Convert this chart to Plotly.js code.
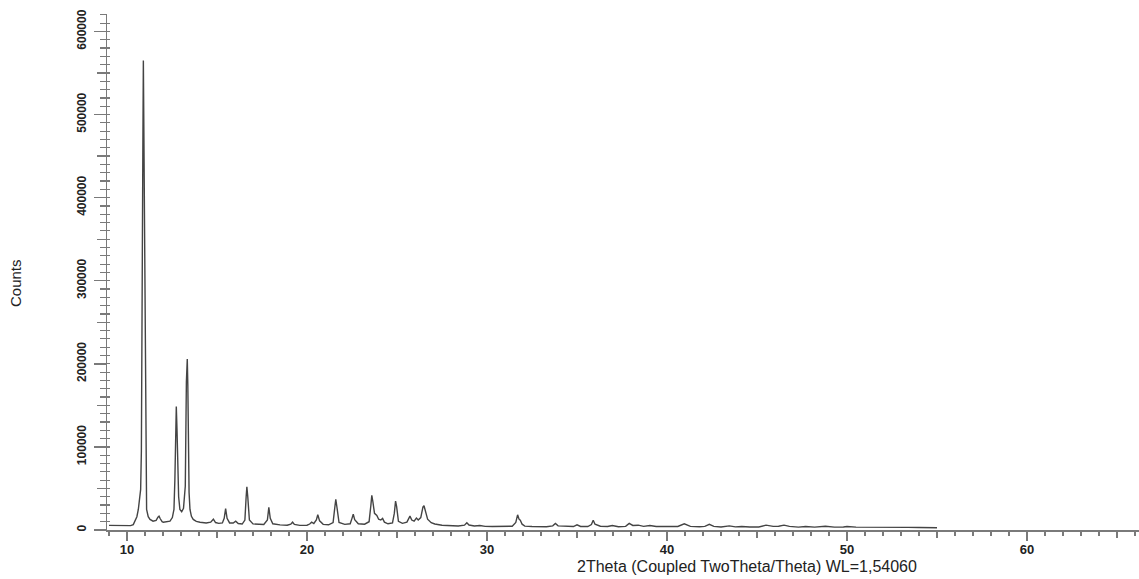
<!DOCTYPE html>
<html>
<head>
<meta charset="utf-8">
<script src="https://cdn.plot.ly/plotly-3.0.1.min.js"></script>
<style>html,body{margin:0;padding:0;background:#fff;}#chart{width:1139px;height:579px;}</style>
</head>
<body>
<div id="chart"></div>
<script>
// 2Theta (degrees)
const twoTheta = [
9.00,9.30,9.60,9.90,10.20,10.35,10.44,10.55,10.63,10.72,10.76,10.80,10.83,10.86,10.88,10.91,10.94,10.96,10.98,11.01,11.04,11.09,11.18,11.28,11.45,11.62,11.72,11.78,11.85,11.95,
12.02,12.20,12.39,12.52,12.61,12.66,12.70,12.74,12.78,12.82,12.87,12.94,13.04,13.14,13.24,13.30,13.35,13.38,13.41,13.45,13.50,13.58,13.68,13.85,14.06,14.40,14.65,14.80,14.92,15.10,
15.30,15.40,15.48,15.56,15.70,15.90,16.04,16.18,16.40,16.55,16.62,16.66,16.71,16.80,17.00,17.30,17.60,17.80,17.88,17.96,18.10,18.50,18.90,19.10,19.20,19.30,19.60,20.00,20.15,20.26,
20.38,20.52,20.60,20.70,20.90,21.20,21.45,21.55,21.60,21.66,21.78,22.10,22.40,22.50,22.57,22.65,22.85,23.20,23.45,23.55,23.60,23.66,23.75,23.88,23.98,24.10,24.20,24.30,24.50,24.75,
24.85,24.92,24.98,25.08,25.30,25.55,25.65,25.72,25.82,25.95,26.08,26.18,26.32,26.44,26.50,26.58,26.70,26.90,27.10,27.50,28.00,28.40,28.75,28.88,29.00,29.30,29.60,29.90,30.30,30.70,
31.10,31.40,31.60,31.70,31.78,31.85,31.95,32.10,32.50,32.90,33.30,33.65,33.80,33.95,34.40,34.80,35.00,35.20,35.60,35.80,35.90,36.00,36.30,36.70,36.96,37.30,37.70,37.90,38.10,38.40,
38.70,39.05,39.40,39.70,40.10,40.60,40.96,41.30,41.80,42.10,42.35,42.60,43.00,43.46,43.80,44.15,44.60,45.10,45.50,45.90,46.20,46.50,46.80,47.30,47.70,48.20,48.80,49.30,49.80,50.00,
50.50,51.00,51.50,52.00,52.80,53.40,54.00,54.60,55.00
];
// Counts
const counts = [
5600,5400,5200,5100,5300,6500,10600,16000,24700,38000,48900,95000,185000,282000,450000,565000,460000,340000,282000,160000,81500,24700,16000,12700,10600,11500,15500,16700,13500,10000,
9400,9800,10600,15000,24700,60000,137000,148700,120000,81500,40000,24700,22000,26000,53000,178000,205800,175000,81500,45000,24700,16500,12700,10300,9400,8500,9500,13000,9000,8000,
8500,14000,25800,14000,8500,8400,10600,7800,7200,12000,40000,52100,40000,12000,7300,6600,6600,12000,27200,14000,7500,6200,5800,7000,9400,6800,5600,5800,7200,9400,
7800,12000,18300,11000,6800,6300,9000,28000,36800,28000,9000,6800,7500,14000,19000,12500,7500,7000,10000,30000,41600,34000,20000,17500,13000,12000,13900,9500,7500,8500,
20000,34800,28000,10500,8000,9500,14000,16700,12000,10600,14400,12000,15000,27500,29200,22000,13000,8800,7200,5800,5200,4800,5800,8700,6000,4800,5400,4400,4300,4200,
4000,4600,9000,18300,13000,11800,7000,4600,4200,3800,4000,5000,7800,5000,4600,4200,6300,4300,4200,6500,11800,7000,4500,4200,5400,4000,4400,8000,5500,5800,
4400,5400,4300,4200,3800,4200,7400,4300,3900,4400,6800,4300,3700,5000,3800,4200,3600,3700,5800,4400,4500,5800,4300,3500,4200,3500,4600,3500,3600,4200,
3500,3500,4000,3300,3800,3100,3000,2800,2700
];
const xRange = [8.89, 66.22];
const yRange = [0, 621000];
const xTitle = "2Theta (Coupled TwoTheta/Theta) WL=1,54060";
const yTitle = "Counts";

const axisColor = '#7a7a7a';
const tickFont = {family: 'Liberation Sans, Arial, sans-serif', size: 13, color: '#222', weight: 'bold'};
const yTickFont = {family: 'Liberation Sans, Arial, sans-serif', size: 12, color: '#222', weight: 'bold'};

const traces = [
  {x: twoTheta, y: counts, type: 'scatter', mode: 'lines', line: {color: '#444444', width: 1.4}, xaxis: 'x', yaxis: 'y', hoverinfo: 'skip'},
  {x: [], y: [], type: 'scatter', mode: 'lines', xaxis: 'x', yaxis: 'y2', hoverinfo: 'skip'},
  {x: [], y: [], type: 'scatter', mode: 'lines', xaxis: 'x', yaxis: 'y3', hoverinfo: 'skip'},
  {x: [], y: [], type: 'scatter', mode: 'lines', xaxis: 'x2', yaxis: 'y', hoverinfo: 'skip'}
];

const layout = {
  width: 1139, height: 579,
  margin: {l: 107, r: 0, t: 14, b: 48.5, pad: 0},
  paper_bgcolor: '#fff', plot_bgcolor: '#fff',
  showlegend: false,
  xaxis: {
    range: xRange, autorange: false, showgrid: false, zeroline: false,
    showline: true, linecolor: axisColor, linewidth: 1.5,
    ticks: 'outside', ticklen: 9, tickwidth: 1.5, tickcolor: axisColor,
    tick0: 0, dtick: 10, tickfont: tickFont, tickformat: 'd', ticklabelstandoff: -2,
    minor: {ticks: 'outside', dtick: 1, tick0: 0, ticklen: 4, tickwidth: 1.2, tickcolor: axisColor, showgrid: false}
  },
  xaxis2: {
    overlaying: 'x', anchor: 'y', range: xRange, autorange: false, showgrid: false, zeroline: false,
    showline: false, ticks: 'outside', ticklen: 7, tickwidth: 1.3, tickcolor: axisColor,
    tick0: 0, dtick: 5, showticklabels: false
  },
  yaxis: {
    range: yRange, autorange: false, showgrid: false, zeroline: false,
    showline: true, linecolor: axisColor, linewidth: 1.5,
    ticks: 'outside', ticklen: 12, tickwidth: 1.5, tickcolor: axisColor,
    tick0: 0, dtick: 100000, tickformat: 'd', tickangle: -90, tickfont: yTickFont, ticklabelstandoff: 3,
    minor: {ticks: 'outside', dtick: 10000, tick0: 0, ticklen: 6, tickwidth: 1.2, tickcolor: axisColor, showgrid: false}
  },
  yaxis2: {
    overlaying: 'y', anchor: 'x', side: 'left', range: yRange, autorange: false, showgrid: false, zeroline: false,
    showline: false, ticks: 'inside', ticklen: 3, tickwidth: 1.2, tickcolor: axisColor,
    tick0: 0, dtick: 10000, showticklabels: false
  },
  yaxis3: {
    overlaying: 'y', anchor: 'x', side: 'left', range: yRange, autorange: false, showgrid: false, zeroline: false,
    showline: false, ticks: 'outside', ticklen: 9, tickwidth: 1.3, tickcolor: axisColor,
    tick0: 0, dtick: 50000, showticklabels: false
  },
  annotations: [
    {text: yTitle, xref: 'paper', yref: 'paper', x: -0.088, y: 0.479, xanchor: 'center', yanchor: 'middle',
     textangle: -90, showarrow: false, font: {family: 'Liberation Sans, Arial, sans-serif', size: 15, color: '#222'}},
    {text: xTitle, xref: 'paper', yref: 'paper', x: 0.6206, y: -0.0905, xanchor: 'center', yanchor: 'bottom',
     showarrow: false, font: {family: 'Liberation Sans, Arial, sans-serif', size: 16, color: '#222'}}
  ]
};

Plotly.newPlot('chart', traces, layout, {staticPlot: true, displayModeBar: false});
</script>
</body>
</html>
